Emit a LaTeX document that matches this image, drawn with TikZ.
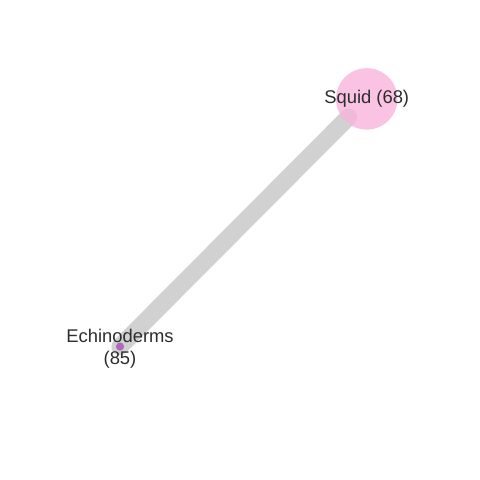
\documentclass[tikz,border=0pt]{standalone}
\usepackage{fontspec}
\setmainfont{Liberation Sans}
\definecolor{edgegray}{RGB}{209,209,209}
\definecolor{squidpink}{RGB}{250,180,220}
\definecolor{echinopurple}{RGB}{176,104,190}
\definecolor{labeltext}{RGB}{45,45,45}

\begin{document}
\begin{tikzpicture}
\useasboundingbox (0,0) rectangle (10,10);
\coordinate (squid) at (7.640,7.940);
\coordinate (echino) at (2.500,2.780);
\coordinate (squidend) at (7.260,7.560);
\draw[edgegray, line width=10.2pt, line cap=round] (echino) -- (squidend);
\fill[squidpink, opacity=0.8] (squid) circle (0.640);
\fill[echinopurple] (echino) circle (0.085);
\node[text=labeltext, font=\fontsize{10.9}{13}\selectfont] (squidlabel) at (squid) {Squid (68)};
\node[text=labeltext, font=\fontsize{10.9}{13}\selectfont, align=center] (echinolabel) at (2.500,2.740) {Echinoderms\\(85)};
\end{tikzpicture}
\end{document}
